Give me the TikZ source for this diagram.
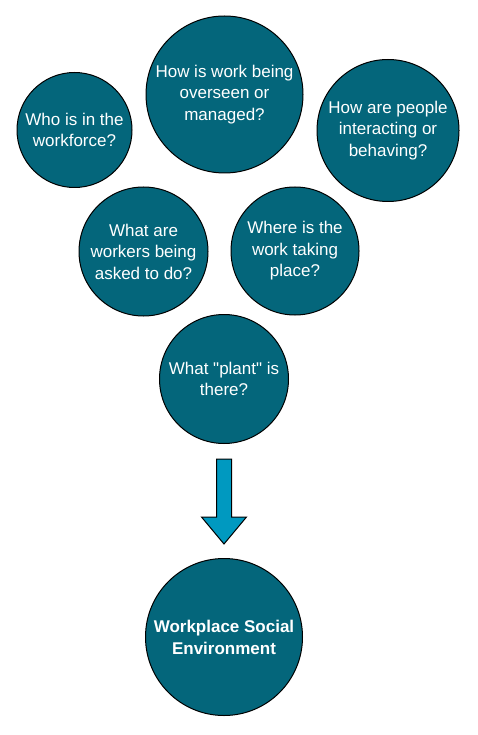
\documentclass[tikz,border=0pt]{standalone}
\usepackage{fontspec}
\setmainfont{Liberation Sans}[Ligatures=TeXOff]
\usetikzlibrary{positioning,calc}
\definecolor{qteal}{RGB}{4,102,123}
\definecolor{arrblue}{RGB}{0,153,192}

\begin{document}
\begin{tikzpicture}[
  x=1pt, y=-1pt,
  font=\fontsize{17}{21.5}\selectfont,
  question/.style={circle, draw=black, line width=1pt, fill=qteal,
    text=white, align=center, inner sep=0pt},
  blockarr/.style={draw=black, line width=1pt, fill=arrblue}
]
\useasboundingbox (0,0) rectangle (478,735);
% question circles
\node[question, minimum size=115pt] (who) at (74.5,130) {Who is in the\\workforce?};
\node[question, minimum size=157pt] (managed) at (224.5,94.5) {How is work being\\overseen or\\managed?};
\node[question, minimum size=142pt] (behave) at (388,130.5) {How are people\\interacting or\\behaving?};
\node[question, minimum size=129pt] (tasks) at (143.5,251.5) {What are\\workers being\\asked to do?};
\node[question, minimum size=128pt] (place) at (295,251) {Where is the\\work taking\\place?};
\node[question, minimum size=129pt] (plant) at (224,379) {What "plant" is\\there?};
% result
\node[question, minimum size=157pt, font=\fontsize{17}{22}\selectfont\bfseries,
  below=114pt of plant] (env) {Workplace Social\\Environment};
% block arrow
\coordinate (tail) at ($(plant.south)+(0,15)$);
\coordinate (tip) at ($(env.north)+(0,-14)$);
\draw[blockarr] ($(tail)+(-7.5,0)$) -- ($(tail)+(7.5,0)$) -- ($(tip)+(7.5,-27)$)
  -- ($(tip)+(22.5,-27)$) -- (tip) -- ($(tip)+(-22.5,-27)$)
  -- ($(tip)+(-7.5,-27)$) -- cycle;
\end{tikzpicture}
\end{document}
